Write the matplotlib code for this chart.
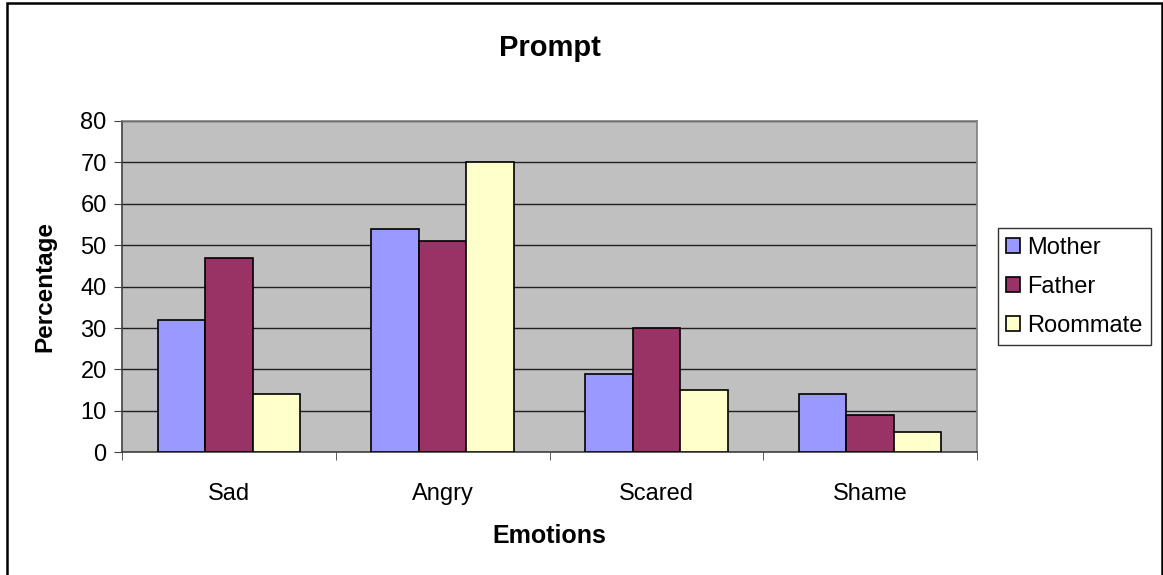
import matplotlib.pyplot as plt
import numpy as np
from matplotlib.patches import Rectangle

plt.rcParams['font.family'] = ['Liberation Sans', 'DejaVu Sans']

# Data
emotions = ['Sad', 'Angry', 'Scared', 'Shame']
mother = [32, 54, 19, 14]
father = [47, 51, 30, 9]
roommate = [14, 70, 15, 5]

series = [('Mother', mother, '#9999FF'),
          ('Father', father, '#993366'),
          ('Roommate', roommate, '#FFFFCC')]

fig = plt.figure(figsize=(11.63, 5.75), dpi=100)
ax = fig.add_axes([0.1049, 0.2134, 0.7352, 0.5762])

x = np.arange(len(emotions))
w = 1 / 4.5
for i, (name, vals, col) in enumerate(series):
    ax.bar(x + (i - 1) * w, vals, w, color=col, edgecolor='black',
           linewidth=1.2, label=name, zorder=3)

ax.set_facecolor('#C0C0C0')
ax.set_xlim(-0.5, len(emotions) - 0.5)
ax.set_ylim(0, 80)
ax.set_yticks(np.arange(0, 81, 10))
ax.yaxis.grid(True, color='#202020', linewidth=1, zorder=0)
ax.set_axisbelow(True)

# category labels centred, ticks between categories
ax.set_xticks(x)
ax.set_xticklabels(emotions)
ax.set_xticks(np.arange(-0.5, len(emotions)), minor=True)
ax.tick_params(axis='x', which='major', length=0, pad=22, labelsize=17)
ax.tick_params(axis='x', which='minor', length=6, color='#404040', direction='out')
ax.tick_params(axis='y', length=6, labelsize=17, pad=5, color='#404040')

for side in ['top', 'right']:
    ax.spines[side].set_color('#808080')
    ax.spines[side].set_linewidth(1.2)
for side in ['left', 'bottom']:
    ax.spines[side].set_color('#404040')
    ax.spines[side].set_linewidth(1.2)

ax.set_title('Prompt', fontsize=21, fontweight='bold', pad=47)
ax.set_xlabel('Emotions', fontsize=18, fontweight='bold', labelpad=14)
ax.set_ylabel('Percentage', fontsize=17.5, fontweight='bold', labelpad=17)

leg = ax.legend(loc='center left', bbox_to_anchor=(1.024, 0.5), fontsize=17,
                frameon=True, fancybox=False, edgecolor='black',
                handlelength=0.6, handleheight=0.6, handletextpad=0.3,
                borderpad=0.35, labelspacing=0.72, borderaxespad=0)
leg.get_frame().set_linewidth(1)

# outer chart border
fig.patches.append(Rectangle((0.006, -0.01), 0.993, 1.004, transform=fig.transFigure,
                             fill=False, edgecolor='black', linewidth=1.8))

fig.savefig('out.png', dpi=100)
